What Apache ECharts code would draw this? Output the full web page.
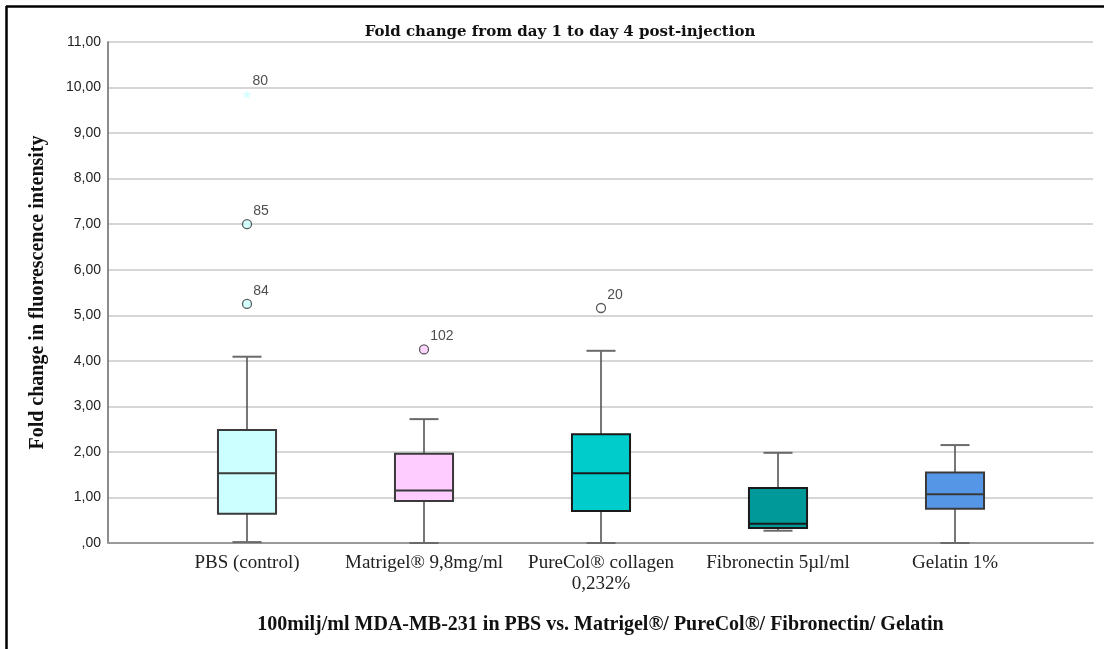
<!DOCTYPE html>
<html>
<head>
<meta charset="utf-8">
<script src="https://cdn.jsdelivr.net/npm/echarts@6/dist/echarts.min.js"></script>
<style>html,body{margin:0;padding:0;background:#fff;}#c{width:1104px;height:649px;}</style>
</head>
<body>
<div id="c"></div>
<script>
// ---- data ----
const categories = ['PBS (control)', 'Matrigel® 9,8mg/ml', 'PureCol® collagen\n0,232%', 'Fibronectin 5µl/ml', 'Gelatin 1%'];
const lowWhisker  = [0.02, 0.00, 0.00, 0.27, 0.00];
const q1          = [0.64, 0.92, 0.70, 0.33, 0.75];
const median      = [1.53, 1.15, 1.53, 0.42, 1.07];
const q3          = [2.48, 1.96, 2.39, 1.21, 1.55];
const highWhisker = [4.09, 2.72, 4.22, 1.98, 2.15];
const outlierCategory = [0, 0, 0, 1, 2];
const outlierValues   = [9.85, 7.00, 5.25, 4.25, 5.16];
const outlierLabels   = ['80', '85', '84', '102', '20'];
const outlierExtreme  = [true, false, false, false, false];
const yTicks = [0, 1, 2, 3, 4, 5, 6, 7, 8, 9, 10, 11];

// ---- style ----
const boxColors = ['#ccffff', '#ffccff', '#00cccc', '#009999', '#5596e6'];
const boxBorders = ['#3a3a3a', '#3a3a3a', '#1a1a1a', '#1a1a1a', '#3a3a3a'];
const outlierFill = ['#ccffff', '#ccffff', '#ccffff', '#ffccff', '#ffffff'];

const boxData = categories.map((c, i) => [i, lowWhisker[i], q1[i], median[i], q3[i], highWhisker[i]]);
const outData = outlierValues.map((v, i) => ({
  value: [outlierCategory[i], v],
  symbol: outlierExtreme[i] ? 'path://M0,-10 L2.2,-3 L9.5,-3 L3.6,1.3 L5.9,8.1 L0,3.9 L-5.9,8.1 L-3.6,1.3 L-9.5,-3 L-2.2,-3 Z' : 'circle',
  symbolSize: 9,
  itemStyle: outlierExtreme[i]
    ? { color: '#ccffff', borderColor: '#ccffff', borderWidth: 0 }
    : { color: outlierFill[i], borderColor: '#333', borderWidth: 1.3 },
  label: { formatter: outlierLabels[i] }
}));

const chart = echarts.init(document.getElementById('c'));
const yFmt = v => v === 0 ? ',00' : v.toFixed(2).replace('.', ',');

chart.setOption({
  animation: false,
  backgroundColor: '#fff',
  title: {
    text: 'Fold change from day 1 to day 4 post-injection',
    left: 555, top: 20, textAlign: 'center',
    textStyle: { fontFamily: 'DejaVu Serif', fontWeight: 'bold', fontSize: 15, color: '#111' }
  },
  grid: [
    { left: 108, right: 11, top: 42, bottom: 106 },
    { left: 158.5, right: 60.5, top: 42, bottom: 106 }
  ],
  xAxis: [
    {
      gridIndex: 0, type: 'value', min: 0, max: 1,
      axisLine: { show: true, lineStyle: { color: '#9a9a9a', width: 2 } },
      axisTick: { show: false }, axisLabel: { show: false }, splitLine: { show: false },
      name: '100milj/ml MDA-MB-231 in PBS vs. Matrigel®/ PureCol®/ Fibronectin/ Gelatin',
      nameLocation: 'middle', nameGap: 72,
      nameTextStyle: { fontFamily: 'Liberation Serif', fontWeight: 'bold', fontSize: 20, color: '#111' }
    },
    {
      gridIndex: 1, type: 'category', data: categories, boundaryGap: true,
      axisLine: { show: false }, axisTick: { show: false }, splitLine: { show: false },
      axisLabel: { interval: 0, margin: 10, lineHeight: 21, fontFamily: 'Liberation Serif', fontSize: 19, color: '#222' }
    }
  ],
  yAxis: [
    {
      gridIndex: 0, type: 'value', min: 0, max: 11, interval: 1,
      axisLine: { show: true, lineStyle: { color: '#666', width: 1.5 } },
      axisTick: { show: false },
      axisLabel: { formatter: yFmt, fontFamily: 'Liberation Sans', fontSize: 14, color: '#222', margin: 7 },
      splitLine: { show: true, lineStyle: { color: '#d6d6d6', width: 2 } },
      name: 'Fold change in fluorescence intensity', nameLocation: 'middle', nameGap: 60, nameRotate: 90,
      nameTextStyle: { fontFamily: 'Liberation Serif', fontWeight: 'bold', fontSize: 20, color: '#111' }
    },
    {
      gridIndex: 1, type: 'value', min: 0, max: 11, interval: 1, show: false
    }
  ],
  graphic: [
    { type: 'line', shape: { x1: 6, y1: 6.5, x2: 1104, y2: 6.5 }, style: { stroke: '#000', lineWidth: 2.5 }, z: 100 },
    { type: 'line', shape: { x1: 6.5, y1: 6, x2: 6.5, y2: 649 }, style: { stroke: '#000', lineWidth: 2.5 }, z: 100 }
  ],
  series: [
    {
      type: 'custom', xAxisIndex: 1, yAxisIndex: 1,
      encode: { x: 0, y: [1, 2, 3, 4, 5] },
      data: boxData,
      renderItem: function (params, api) {
        const i = api.value(0);
        const band = api.size([1, 0])[0];
        const bw = band * 0.328;
        const cw = bw / 2;
        const pLow = api.coord([i, api.value(1)]);
        const pQ1 = api.coord([i, api.value(2)]);
        const pMed = api.coord([i, api.value(3)]);
        const pQ3 = api.coord([i, api.value(4)]);
        const pHigh = api.coord([i, api.value(5)]);
        const x = pMed[0];
        const wStyle = { stroke: '#4a4a4a', lineWidth: 1.5 };
        const cStyle = { stroke: '#6a6a6a', lineWidth: 2 };
        return {
          type: 'group',
          children: [
            { type: 'line', shape: { x1: x, y1: pQ3[1], x2: x, y2: pHigh[1] }, style: wStyle },
            { type: 'line', shape: { x1: x, y1: pQ1[1], x2: x, y2: pLow[1] }, style: wStyle },
            { type: 'line', shape: { x1: x - cw / 2, y1: pHigh[1], x2: x + cw / 2, y2: pHigh[1] }, style: cStyle },
            { type: 'line', shape: { x1: x - cw / 2, y1: pLow[1], x2: x + cw / 2, y2: pLow[1] }, style: cStyle },
            { type: 'rect', shape: { x: x - bw / 2, y: pQ3[1], width: bw, height: pQ1[1] - pQ3[1] },
              style: { fill: boxColors[i], stroke: boxBorders[i], lineWidth: 2 } },
            { type: 'line', shape: { x1: x - bw / 2, y1: pMed[1], x2: x + bw / 2, y2: pMed[1] },
              style: { stroke: boxBorders[i], lineWidth: 2 } }
          ]
        };
      }
    },
    {
      type: 'scatter', xAxisIndex: 1, yAxisIndex: 1,
      data: outData,
      z: 5,
      label: {
        show: true, position: 'right', distance: 1, offset: [0, -13],
        fontFamily: 'Liberation Sans', fontSize: 14, color: '#222'
      }
    }
  ]
});
</script>
</body>
</html>
